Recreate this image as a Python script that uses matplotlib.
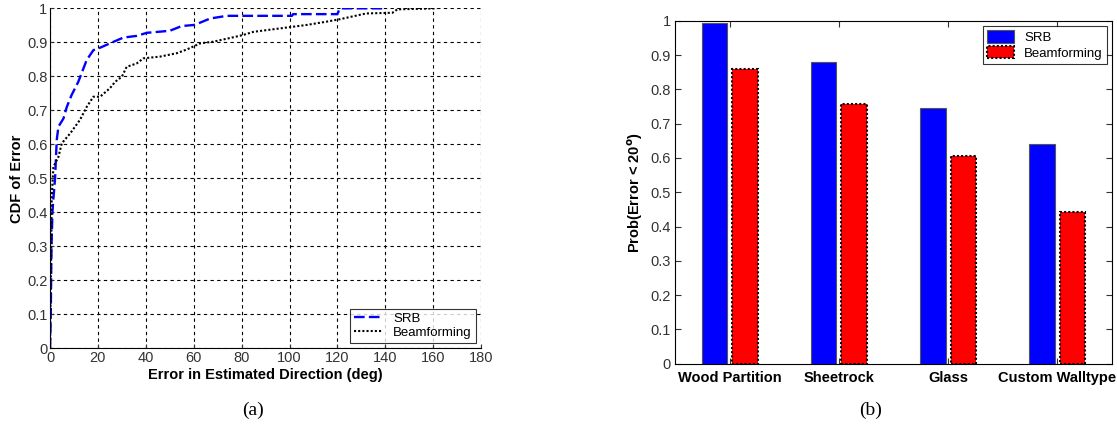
import matplotlib
matplotlib.use("Agg")
import matplotlib.pyplot as plt
import numpy as np

plt.rcParams['font.family'] = ['Liberation Sans', 'DejaVu Sans']

# CDF curves
srb_x = [0, 0.3, 0.6, 1.0, 1.4, 2.1, 2.8, 3.5, 5.6, 7, 9, 11.8, 15.3, 18.1, 20.2, 25,
         30.6, 36.2, 40.4, 50, 55, 60, 62.7, 66.8, 73.8, 101, 101.5, 120, 121, 140]
srb_y = [0, 0.1, 0.3, 0.4, 0.44, 0.5, 0.613, 0.652, 0.676, 0.71, 0.745, 0.784, 0.848,
         0.877, 0.882, 0.897, 0.914, 0.919, 0.928, 0.934, 0.948, 0.951, 0.958, 0.97,
         0.978, 0.978, 0.983, 0.983, 1.0, 1.0]
bf_x = [0, 0.5, 0.7, 1.4, 3.5, 4.9, 8.4, 12.5, 15.3, 18.1, 20.9, 25, 27.2, 30, 32, 36.2,
        39, 45.9, 52.9, 57.1, 62.7, 68.2, 76.6, 80.8, 85, 96, 107, 115.6, 121, 132, 143,
        145, 161.5]
bf_y = [0, 0.3, 0.44, 0.534, 0.563, 0.603, 0.632, 0.672, 0.71, 0.74, 0.74, 0.765, 0.784,
        0.799, 0.828, 0.838, 0.853, 0.858, 0.868, 0.879, 0.897, 0.902, 0.915, 0.922,
        0.931, 0.941, 0.951, 0.961, 0.968, 0.985, 0.987, 0.997, 1.0]

# panel (b)
materials = ['Wood Partition', 'Sheetrock', 'Glass', 'Custom Walltype']
srb_prob = [0.992, 0.879, 0.746, 0.641]
bf_prob = [0.859, 0.758, 0.606, 0.441]

fig = plt.figure(figsize=(11.17, 4.26), dpi=100)

# ---- (a) ----
ax1 = fig.add_axes([0.0448, 0.1824, 0.3859, 0.798])
ax1.plot(srb_x, srb_y, color='blue', lw=1.7, linestyle=(0, (4.5, 1.8)), label='SRB')
ax1.plot(bf_x, bf_y, color='black', lw=1.5, linestyle=(0, (1, 1)), label='Beamforming')
ax1.set_xlim(0, 180)
ax1.set_ylim(0, 1)
ax1.set_xticks(np.arange(0, 181, 20))
ax1.set_yticks(np.arange(0, 1.01, 0.1))
ax1.set_yticklabels(['0', '0.1', '0.2', '0.3', '0.4', '0.5', '0.6', '0.7', '0.8', '0.9', '1'])
ax1.grid(True, color='black', linestyle=(0, (3, 3)), lw=0.8)
for s in ['top', 'right']:
    ax1.spines[s].set_visible(False)
ax1.tick_params(direction='in', labelsize=10.5, colors='#333333', length=3, pad=2)
ax1.set_xlabel('Error in Estimated Direction (deg)', fontsize=10.5, fontweight='bold', labelpad=2)
ax1.set_ylabel('CDF of Error', fontsize=10.5, fontweight='bold', labelpad=2)
leg1 = ax1.legend(loc='lower right', fontsize=9.5, frameon=True, fancybox=False,
                  edgecolor='black', borderaxespad=0.4, handlelength=2.2,
                  borderpad=0.3, labelspacing=0.15)
leg1.get_frame().set_linewidth(0.8)

# ---- (b) ----
ax2 = fig.add_axes([0.6043, 0.1462, 0.3912, 0.8052])
pos = np.arange(1, len(materials) + 1)
w = 0.234
ax2.bar(pos - 0.14, srb_prob, w, color='blue', edgecolor='#555555', lw=0.8, label='SRB')
ax2.bar(pos + 0.14, bf_prob, w, color='red', edgecolor='black', lw=1.5,
        linestyle=(0, (1, 1)), label='Beamforming')
ax2.set_xlim(0.5, 4.5)
ax2.set_ylim(0, 1)
ax2.set_xticks(pos)
ax2.set_xticklabels(materials, fontsize=11, fontweight='bold')
ax2.set_yticks(np.arange(0, 1.01, 0.1))
ax2.set_yticklabels(['0', '0.1', '0.2', '0.3', '0.4', '0.5', '0.6', '0.7', '0.8', '0.9', '1'])
ax2.tick_params(direction='in', top=True, right=True, labelsize=10.5, colors='#333333',
                length=4, pad=3)
ax2.tick_params(axis='x', labelcolor='black', pad=5)
ax2.set_ylabel(r'Prob(Error < 20$^{\mathbf{o}}$)', fontsize=10.5, fontweight='bold', labelpad=4)
leg2 = ax2.legend(loc='upper right', fontsize=9.5, frameon=True, fancybox=False,
                  edgecolor='black', borderaxespad=0.4, handlelength=2.0, handleheight=1.1,
                  borderpad=0.3, labelspacing=0.15)
leg2.get_frame().set_linewidth(0.8)

fig.text(0.2265, 0.037, '(a)', fontsize=14, family='Liberation Serif', ha='center', va='center')
fig.text(0.779, 0.037, '(b)', fontsize=14, family='Liberation Serif', ha='center', va='center')

fig.savefig('out.png', dpi=100)
